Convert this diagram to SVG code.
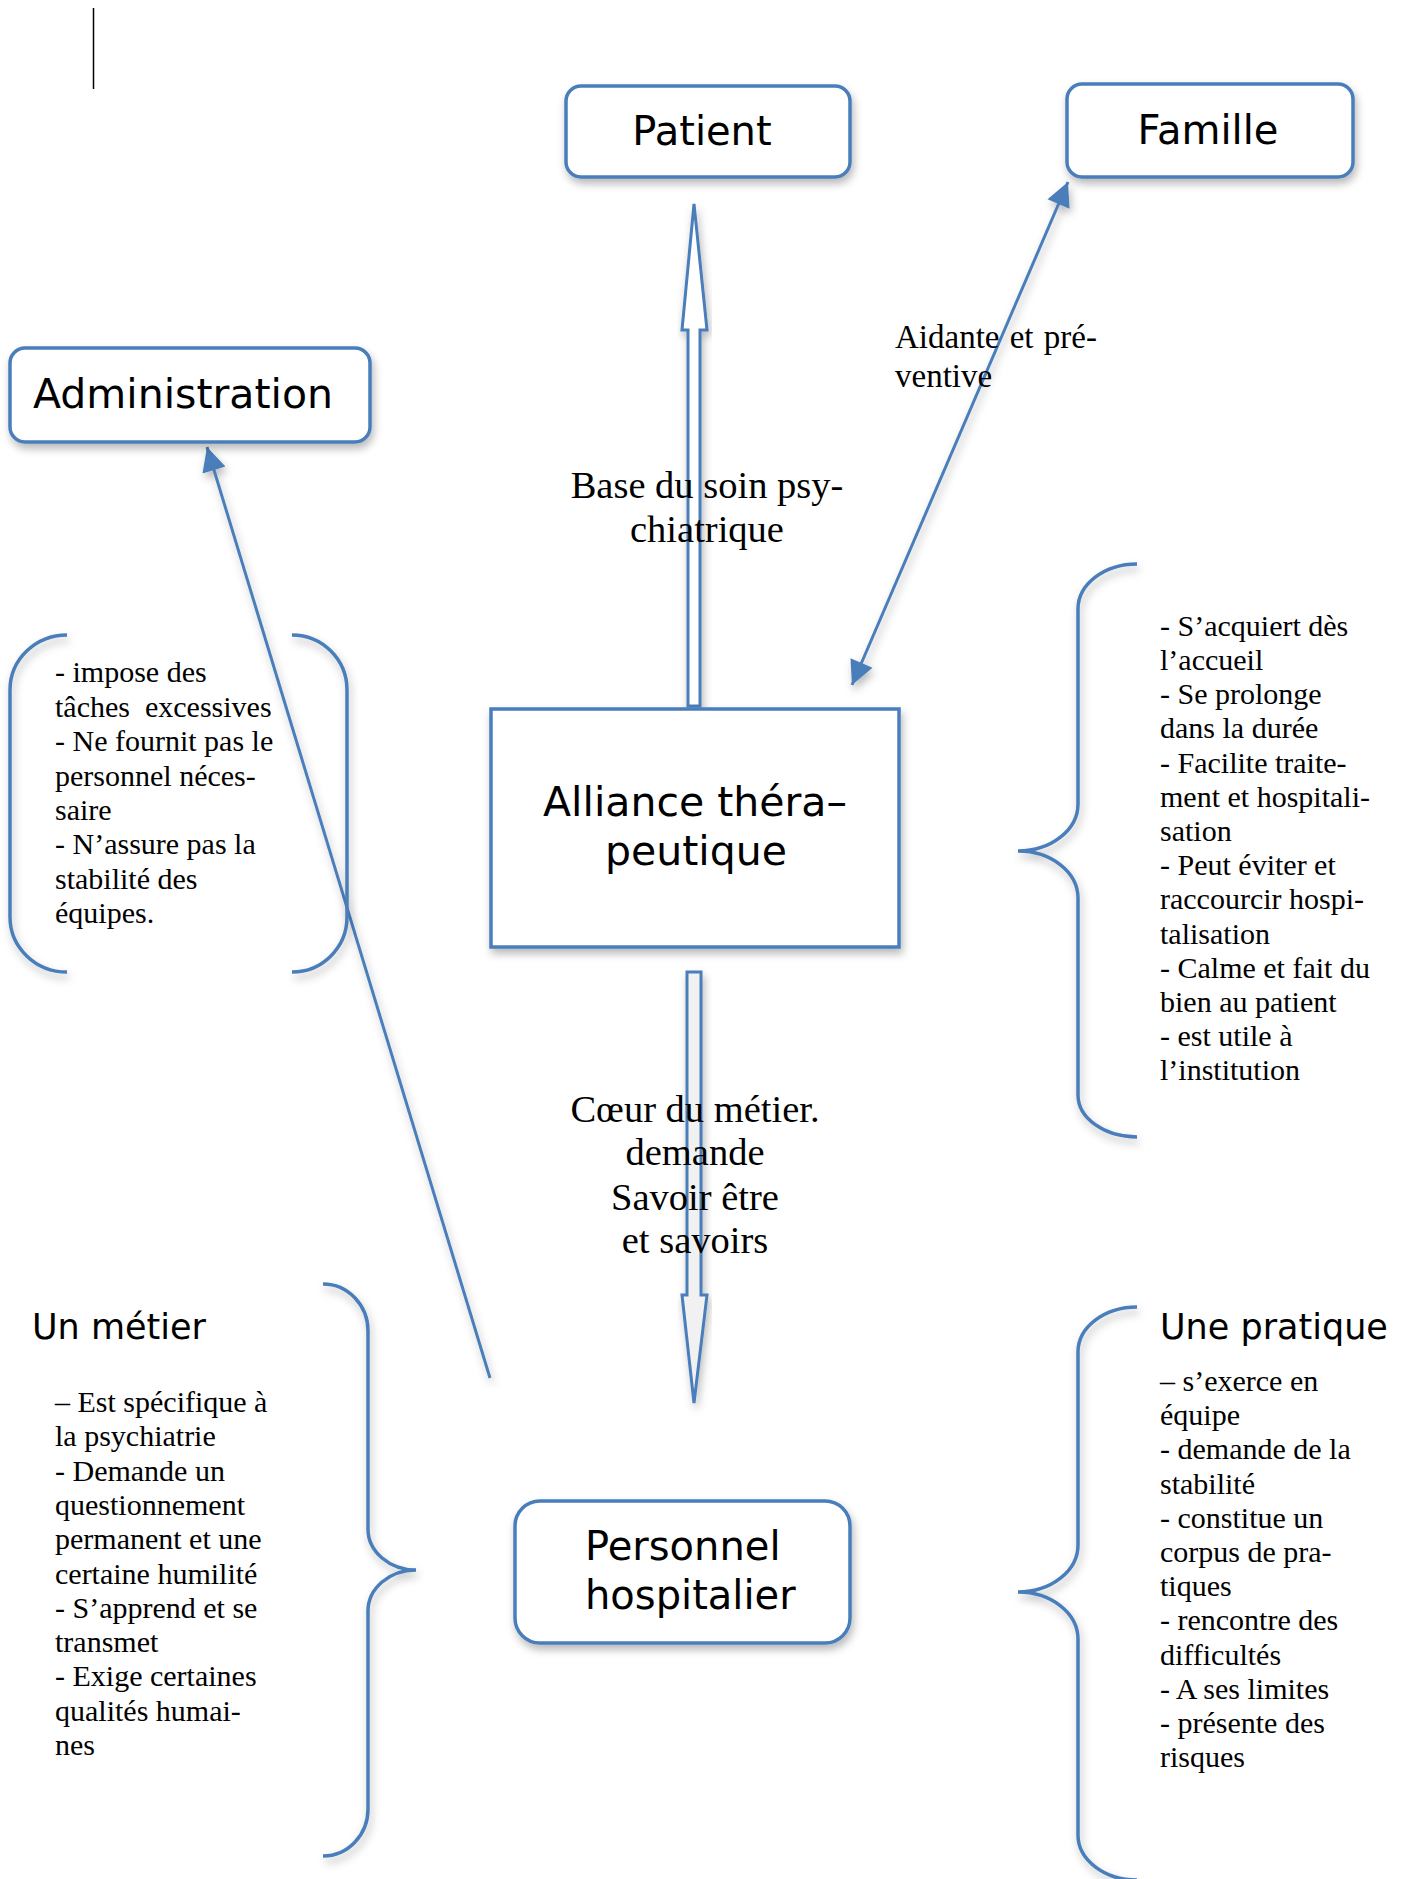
<svg xmlns="http://www.w3.org/2000/svg" width="1410" height="1879" viewBox="0 0 1410 1879">
<style>
.box{fill:#fff;stroke:#4a7ebb;stroke-width:3.5}
.sans{font-family:"DejaVu Sans","Liberation Sans",sans-serif;fill:#000}
.serif{font-family:"Liberation Serif","DejaVu Serif",serif;fill:#000}
.list{font-size:30px}
.lbl{font-size:38.5px;text-anchor:middle}
.brace{fill:none;stroke:#4a7ebb;stroke-width:3.5}
.con{fill:none;stroke:#4a7ebb;stroke-width:3}
.block{stroke:#4a7ebb;stroke-width:3;stroke-linejoin:miter}
</style>
<defs>
<filter id="sh" x="-20%" y="-20%" width="140%" height="140%">
<feDropShadow dx="2" dy="5" stdDeviation="4" flood-color="#000" flood-opacity="0.28"/>
</filter>
<marker id="ah" viewBox="0 0 10 10" refX="10" refY="5" markerUnits="userSpaceOnUse" markerWidth="28" markerHeight="24" orient="auto-start-reverse">
<path d="M0,0 L10,5 L0,10 Z" fill="#4a7ebb"/>
</marker>
</defs>
<rect width="1410" height="1879" fill="#fff"/>
<line x1="93.5" y1="8" x2="93.5" y2="89" stroke="#000" stroke-width="1.5"/>

<g id="connectors">
<path class="con" filter="url(#sh)" d="M490,1378 L207,447" marker-end="url(#ah)"/>
<path class="con" filter="url(#sh)" d="M852,685 L1068,182" marker-start="url(#ah)" marker-end="url(#ah)"/>
<polygon class="block" fill="#fff" filter="url(#sh)" points="688,706 688,330 682,330 694,204 707,330 700,330 700,706"/>
<polygon class="block" fill="#f1f1f1" filter="url(#sh)" points="687,972 701,972 701,1295 707,1295 694,1403 682,1295 687,1295"/>
<text class="serif lbl" x="707" y="498">Base du soin psy-</text>
<text class="serif lbl" x="707" y="542">chiatrique</text>
<text class="serif lbl" x="695" y="1122">Cœur du métier.</text>
<text class="serif lbl" x="695" y="1165">demande</text>
<text class="serif lbl" x="695" y="1210">Savoir être</text>
<text class="serif lbl" x="695" y="1253">et savoirs</text>
<text class="serif" font-size="33" x="895" y="348" word-spacing="2">Aidante et pré-</text>
<text class="serif" font-size="33" x="895" y="387">ventive</text>
</g>

<g id="patient">
<rect class="box" filter="url(#sh)" x="566" y="86" width="284" height="91" rx="15"/>
<text class="sans" font-size="40" x="702" y="145" text-anchor="middle">Patient</text>
</g>

<g id="famille">
<rect class="box" filter="url(#sh)" x="1067" y="84" width="286" height="93" rx="15"/>
<text class="sans" font-size="40" x="1208" y="144" text-anchor="middle">Famille</text>
</g>

<g id="administration">
<rect class="box" filter="url(#sh)" x="10" y="348" width="360" height="94" rx="15"/>
<text class="sans" font-size="41" x="183" y="408" text-anchor="middle">Administration</text>
</g>

<g id="alliance">
<rect class="box" filter="url(#sh)" x="491" y="709" width="408" height="238"/>
<text class="sans" font-size="41" x="695" y="816" text-anchor="middle">Alliance théra–</text>
<text class="sans" font-size="41" x="696" y="865" text-anchor="middle">peutique</text>
</g>

<g id="personnel">
<rect class="box" filter="url(#sh)" x="515" y="1501" width="335" height="142" rx="25"/>
<text class="sans" font-size="40" x="585" y="1560">Personnel</text>
<text class="sans" font-size="40" x="585" y="1609">hospitalier</text>
</g>

<g id="admin-list">
<path class="brace" filter="url(#sh)" d="M67,635 A57,55 0 0 0 10,690 L10,917 A57,55 0 0 0 67,972"/>
<path class="brace" filter="url(#sh)" d="M292,635 A55,55 0 0 1 347,690 L347,917 A55,55 0 0 1 292,972"/>
<text class="serif list" x="55" y="682">- impose des</text>
<text class="serif list" x="55" y="717" xml:space="preserve">tâches  excessives</text>
<text class="serif list" x="55" y="751">- Ne fournit pas le</text>
<text class="serif list" x="55" y="786">personnel néces-</text>
<text class="serif list" x="55" y="820">saire</text>
<text class="serif list" x="55" y="854">- N’assure pas la</text>
<text class="serif list" x="55" y="889">stabilité des</text>
<text class="serif list" x="55" y="923">équipes.</text>
</g>

<g id="alliance-list">
<path class="brace" filter="url(#sh)" d="M1137,564 A59,45 0 0 0 1078,609 L1078,804 A60,47 0 0 1 1018,851 A60,47 0 0 1 1078,898 L1078,1095 A59,42 0 0 0 1137,1137"/>
<text class="serif list" x="1160" y="636">- S’acquiert dès</text>
<text class="serif list" x="1160" y="670">l’accueil</text>
<text class="serif list" x="1160" y="704">- Se prolonge</text>
<text class="serif list" x="1160" y="738">dans la durée</text>
<text class="serif list" x="1160" y="773">- Facilite traite-</text>
<text class="serif list" x="1160" y="807">ment et hospitali-</text>
<text class="serif list" x="1160" y="841">sation</text>
<text class="serif list" x="1160" y="875">- Peut éviter et</text>
<text class="serif list" x="1160" y="909">raccourcir hospi-</text>
<text class="serif list" x="1160" y="944">talisation</text>
<text class="serif list" x="1160" y="978">- Calme et fait du</text>
<text class="serif list" x="1160" y="1012">bien au patient</text>
<text class="serif list" x="1160" y="1046">- est utile à</text>
<text class="serif list" x="1160" y="1080">l’institution</text>
</g>

<g id="metier">
<path class="brace" filter="url(#sh)" d="M323,1284 A45,47 0 0 1 368,1331 L368,1529 A48,41 0 0 0 416,1570 A48,41 0 0 0 368,1611 L368,1809 A45,47 0 0 1 323,1856"/>
<text class="sans" font-size="35" x="32" y="1339">Un métier</text>
<text class="serif list" x="55" y="1412">– Est spécifique à</text>
<text class="serif list" x="55" y="1446">la psychiatrie</text>
<text class="serif list" x="55" y="1481">- Demande un</text>
<text class="serif list" x="55" y="1515">questionnement</text>
<text class="serif list" x="55" y="1549">permanent et une</text>
<text class="serif list" x="55" y="1584">certaine humilité</text>
<text class="serif list" x="55" y="1618">- S’apprend et se</text>
<text class="serif list" x="55" y="1652">transmet</text>
<text class="serif list" x="55" y="1686">- Exige certaines</text>
<text class="serif list" x="55" y="1721">qualités humai-</text>
<text class="serif list" x="55" y="1755">nes</text>
</g>

<g id="pratique">
<path class="brace" filter="url(#sh)" d="M1137,1307 A59,45 0 0 0 1078,1352 L1078,1545 A60,47 0 0 1 1018,1592 A60,47 0 0 1 1078,1639 L1078,1835 A59,45 0 0 0 1137,1880"/>
<text class="sans" font-size="35" x="1160" y="1339">Une pratique</text>
<text class="serif list" x="1160" y="1391">– s’exerce en</text>
<text class="serif list" x="1160" y="1425">équipe</text>
<text class="serif list" x="1160" y="1459">- demande de la</text>
<text class="serif list" x="1160" y="1494">stabilité</text>
<text class="serif list" x="1160" y="1528">- constitue un</text>
<text class="serif list" x="1160" y="1562">corpus de pra-</text>
<text class="serif list" x="1160" y="1596">tiques</text>
<text class="serif list" x="1160" y="1630">- rencontre des</text>
<text class="serif list" x="1160" y="1665">difficultés</text>
<text class="serif list" x="1160" y="1699">- A ses limites</text>
<text class="serif list" x="1160" y="1733">- présente des</text>
<text class="serif list" x="1160" y="1767">risques</text>
</g>
</svg>
